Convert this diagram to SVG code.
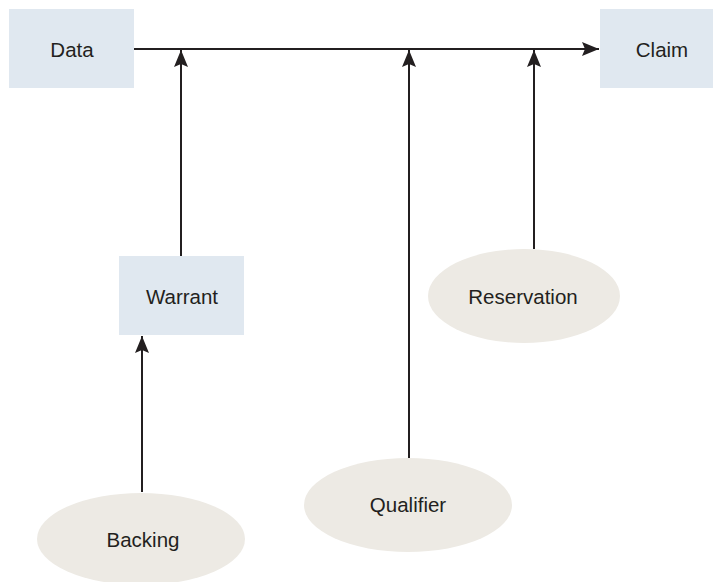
<svg xmlns="http://www.w3.org/2000/svg" width="713" height="582" viewBox="0 0 713 582">
<style>
.box{fill:#e0e8f0}
.oval{fill:#edeae4}
.lbl{font-family:"Liberation Sans",Arial,sans-serif;font-size:20.5px;fill:#231f20;text-anchor:middle;dominant-baseline:central}
.conn{stroke:#231f20;stroke-width:2;fill:none;marker-end:url(#ah)}
</style>
<defs>
<marker id="ah" markerUnits="userSpaceOnUse" markerWidth="18" markerHeight="14" refX="17" refY="7" orient="auto">
<path d="M0,0 L17,7 L0,14 L3,7 z" fill="#231f20"/>
</marker>
</defs>
<rect width="713" height="582" fill="#ffffff"/>
<g id="connectors">
<line class="conn" x1="134" y1="49" x2="599" y2="49"/>
<line class="conn" x1="181" y1="256" x2="181" y2="50"/>
<line class="conn" x1="409" y1="458" x2="409" y2="50"/>
<line class="conn" x1="534" y1="249" x2="534" y2="50"/>
<line class="conn" x1="142" y1="492" x2="142" y2="336"/>
</g>
<g id="data">
<rect class="box" x="9" y="9" width="125" height="79"/>
<text class="lbl" x="72" y="49">Data</text>
</g>
<g id="claim">
<rect class="box" x="600" y="9" width="113" height="79"/>
<text class="lbl" x="662" y="49">Claim</text>
</g>
<g id="warrant">
<rect class="box" x="119" y="256" width="125" height="79"/>
<text class="lbl" x="182" y="296">Warrant</text>
</g>
<g id="reservation">
<ellipse class="oval" cx="524" cy="296" rx="96" ry="47"/>
<text class="lbl" x="523" y="296">Reservation</text>
</g>
<g id="qualifier">
<ellipse class="oval" cx="408" cy="505" rx="104" ry="47"/>
<text class="lbl" x="408" y="504">Qualifier</text>
</g>
<g id="backing">
<ellipse class="oval" cx="141" cy="539" rx="104" ry="46"/>
<text class="lbl" x="143" y="539">Backing</text>
</g>
</svg>
